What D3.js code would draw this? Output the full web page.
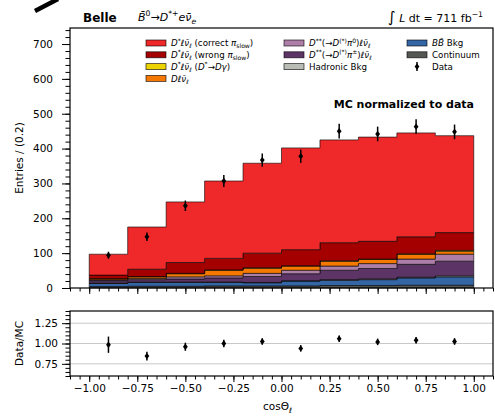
<!DOCTYPE html>
<html>
<head>
<meta charset="utf-8">
<script src="https://cdn.jsdelivr.net/npm/d3@7"></script>
<style>
body { margin: 0; background: #fff; }
svg { font-family: "DejaVu Sans", sans-serif; }
</style>
</head>
<body>
<svg width="495" height="419"></svg>
<script>
// bins of cos(theta_l), width 0.2
var binEdges = [-1, -0.8, -0.6, -0.4, -0.2, 0, 0.2, 0.4, 0.6, 0.8, 1];
var binCenters = [-0.9, -0.7, -0.5, -0.3, -0.1, 0.1, 0.3, 0.5, 0.7, 0.9];

// MC components, bottom of the stack first
var continuum    = [4, 5, 5, 6, 6, 6, 7, 7, 8, 8];
var bbBkg        = [9, 11, 11, 10, 9, 14, 15, 17, 21, 24];
var hadronicBkg  = [1, 1, 1, 1, 1, 1, 2, 2, 2, 3];
var dssCharged   = [7, 7, 9, 12, 17, 20, 27, 30, 37, 42];
var dssNeutral   = [2, 3, 6, 6, 9, 10, 12, 14, 15, 20];
var dlnu         = [3, 5, 9, 16, 15, 12, 14, 12, 14, 8];
var dstarGamma   = [1, 1, 1, 1, 1, 1, 1, 1, 1, 3];
var dstarWrong   = [10, 21, 31, 33, 42, 46, 52, 51, 49, 51];
var dstarCorrect = [60, 121, 174, 222, 258, 292, 295, 299, 298, 278];

var dataCounts = [94, 147, 236, 307, 367, 378, 450, 442, 463, 448];
var dataErrors = [10, 12, 15, 17, 19, 19, 21, 21, 21, 21];
var ratioValues = [0.985, 0.845, 0.96, 1.0, 1.025, 0.94, 1.06, 1.02, 1.04, 1.025];
var ratioErrors = [0.1, 0.055, 0.05, 0.045, 0.04, 0.04, 0.04, 0.04, 0.04, 0.04];

var mainYTicks = [0, 100, 200, 300, 400, 500, 600, 700];
var ratioYTicks = [0.75, 1.0, 1.25];
var xTicks = [-1, -0.75, -0.5, -0.25, 0, 0.25, 0.5, 0.75, 1];

var keys = ["cont", "bb", "had", "dssc", "dssn", "dlnu", "dgam", "wrong", "correct"];
var colors = {
    cont: "#555753", bb: "#3465a4", had: "#babdb6", dssc: "#5c3566", dssn: "#ad7fa8",
    dlnu: "#f57900", dgam: "#edd400", wrong: "#a40000", correct: "#ef2929"
};

var svg = d3.select("svg");

var left = 70, right = 493,
    mainTop = 28, mainBottom = 288,
    ratioTop = 311, ratioBottom = 376;

var x = d3.scaleLinear().domain([-1.1, 1.1]).range([left, right]);
var y = d3.scaleLinear().domain([0, 746]).range([mainBottom, mainTop]);
var yr = d3.scaleLinear().domain([0.6, 1.4]).range([ratioBottom, ratioTop]);

// stacked table, last row repeated so the step ends at cos = 1
var table = binEdges.map(function(e, i) {
    var j = Math.min(i, 9);
    return {
        edge: e, cont: continuum[j], bb: bbBkg[j], had: hadronicBkg[j], dssc: dssCharged[j],
        dssn: dssNeutral[j], dlnu: dlnu[j], dgam: dstarGamma[j], wrong: dstarWrong[j], correct: dstarCorrect[j]
    };
});
var series = d3.stack().keys(keys)(table);

var area = d3.area()
    .x(function(d) { return x(d.data.edge); })
    .y0(function(d) { return y(d[0]); })
    .y1(function(d) { return y(d[1]); })
    .curve(d3.curveStepAfter);

svg.append("g").selectAll("path")
    .data(series)
    .join("path")
    .attr("d", area)
    .attr("fill", function(d) { return colors[d.key]; })
    .attr("stroke", "#000")
    .attr("stroke-opacity", 0.75)
    .attr("stroke-width", 0.8);

// outline of the total
var topLine = d3.line()
    .x(function(d) { return x(d.data.edge); })
    .y(function(d) { return y(d[1]); })
    .curve(d3.curveStepAfter);
svg.append("path")
    .attr("d", "M" + x(-1) + "," + y(0) + topLine(series[series.length - 1]).slice(1) + "L" + x(1) + "," + y(0))
    .attr("fill", "none")
    .attr("stroke", "#000")
    .attr("stroke-opacity", 0.75)
    .attr("stroke-width", 1);

// data points
function drawPoints(g, xs, vals, errs, sy) {
    var pts = g.append("g");
    xs.forEach(function(c, i) {
        pts.append("line")
            .attr("x1", x(c)).attr("x2", x(c))
            .attr("y1", sy(vals[i] - errs[i])).attr("y2", sy(vals[i] + errs[i]))
            .attr("stroke", "#000").attr("stroke-width", 1.5);
        pts.append("path")
            .attr("d", "M" + x(c) + "," + (sy(vals[i]) - 3.2) + "l2.4,3.2l-2.4,3.2l-2.4,-3.2z")
            .attr("fill", "#000");
    });
}
drawPoints(svg, binCenters, dataCounts, dataErrors, y);

// ratio grid
svg.append("g").selectAll("line")
    .data(ratioYTicks)
    .join("line")
    .attr("x1", left).attr("x2", right)
    .attr("y1", function(d) { return yr(d); })
    .attr("y2", function(d) { return yr(d); })
    .attr("stroke", "#c8c8c8")
    .attr("stroke-width", 1);

drawPoints(svg, binCenters, ratioValues, ratioErrors, yr);

// axes
var xMinor = d3.range(-110, 111, 5).map(function(v) { return v / 100; });
var yMinor = d3.range(0, 741, 20);
var yrMinor = d3.range(60, 141, 5).map(function(v) { return v / 100; });

function styleAxis(g) {
    g.select(".domain").remove();
    g.selectAll("line").attr("stroke", "#000").attr("stroke-width", 1);
    g.selectAll("text").attr("fill", "#000").attr("font-size", 10.5).attr("font-family", "DejaVu Sans");
}

[[mainBottom, false], [ratioBottom, true]].forEach(function(p) {
    svg.append("g").attr("transform", "translate(0," + p[0] + ")")
        .call(d3.axisBottom(x).tickValues(xMinor).tickSize(3.5).tickFormat(""))
        .call(styleAxis);
    svg.append("g").attr("transform", "translate(0," + p[0] + ")")
        .call(d3.axisBottom(x).tickValues(xTicks).tickSize(6).tickPadding(3)
            .tickFormat(p[1] ? d3.format(".2f") : function() { return ""; }))
        .call(styleAxis);
});

svg.append("g").attr("transform", "translate(" + left + ",0)")
    .call(d3.axisLeft(y).tickValues(yMinor).tickSize(4.5).tickFormat(""))
    .call(styleAxis);
svg.append("g").attr("transform", "translate(" + left + ",0)")
    .call(d3.axisLeft(y).tickValues(mainYTicks).tickSize(8).tickPadding(9).tickFormat(d3.format("d")))
    .call(styleAxis);
svg.append("g").attr("transform", "translate(" + left + ",0)")
    .call(d3.axisLeft(yr).tickValues(yrMinor).tickSize(4.5).tickFormat(""))
    .call(styleAxis);
svg.append("g").attr("transform", "translate(" + left + ",0)")
    .call(d3.axisLeft(yr).tickValues(ratioYTicks).tickSize(8).tickPadding(4).tickFormat(d3.format(".2f")))
    .call(styleAxis);

// frames
[[mainTop, mainBottom], [ratioTop, ratioBottom]].forEach(function(p) {
    svg.append("rect")
        .attr("x", left).attr("y", p[0])
        .attr("width", right - left).attr("height", p[1] - p[0])
        .attr("fill", "none").attr("stroke", "#000").attr("stroke-width", 1.2);
});

// text with sub/superscripts
function mathText(g, px, py, size, parts) {
    var t = g.append("text").attr("x", px).attr("y", py).attr("font-size", size).attr("fill", "#000");
    var cur = 0;
    parts.forEach(function(p) {
        var s = p[1] || "";
        var off = s.indexOf("^") >= 0 ? -size * 0.42 : s.indexOf("_") >= 0 ? size * 0.25 : 0;
        var ts = t.append("tspan").attr("dy", off - cur).text(p[0]);
        cur = off;
        if (off) ts.attr("font-size", size * 0.7);
        if (s.indexOf("i") >= 0) ts.attr("font-style", "italic");
        if (s.indexOf("L") >= 0) ts.attr("font-size", size * 1.35);
    });
    return t;
}

var lnu = [["ℓ", "i"], ["ν̄", "i"], ["ℓ", "_i"]];

// header
svg.append("text").attr("x", 83).attr("y", 22).attr("font-size", 12).attr("font-weight", "bold").text("Belle");
mathText(svg, 138, 21, 11, [["B̄", "i"], ["0", "^"], ["→", ""], ["D", "i"], ["*+", "^"], ["eν̄", "i"], ["e", "_i"]]);
mathText(svg, 483, 22, 11, [["∫", "L"], [" ", ""], ["L", "i"], [" dt = 711 fb", ""], ["−1", "^"]])
    .attr("text-anchor", "end");

// stray pen mark at top left
svg.append("line").attr("x1", 35).attr("y1", 11).attr("x2", 58).attr("y2", -1)
    .attr("stroke", "#000").attr("stroke-width", 4.5);

// legend
var legendItems = [
    { key: "correct", col: 0, row: 0, parts: [["D", "i"], ["*", "^"]].concat(lnu, [[" (correct ", ""], ["π", "i"], ["slow", "_"], [")", ""]]) },
    { key: "wrong", col: 0, row: 1, parts: [["D", "i"], ["*", "^"]].concat(lnu, [[" (wrong ", ""], ["π", "i"], ["slow", "_"], [")", ""]]) },
    { key: "dgam", col: 0, row: 2, parts: [["D", "i"], ["*", "^"]].concat(lnu, [[" (", ""], ["D", "i"], ["*", "^"], ["→", ""], ["Dγ", "i"], [")", ""]]) },
    { key: "dlnu", col: 0, row: 3, parts: [["D", "i"]].concat(lnu) },
    { key: "dssn", col: 1, row: 0, parts: [["D", "i"], ["**", "^"], ["(→", ""], ["D", "i"], ["(*)", "^"], ["π", "i"], ["0", "^"], [")", ""]].concat(lnu) },
    { key: "dssc", col: 1, row: 1, parts: [["D", "i"], ["**", "^"], ["(→", ""], ["D", "i"], ["(*)", "^"], ["π", "i"], ["±", "^"], [")", ""]].concat(lnu) },
    { key: "had", col: 1, row: 2, parts: [["Hadronic Bkg", ""]] },
    { key: "bb", col: 2, row: 0, parts: [["BB̄", "i"], [" Bkg", ""]] },
    { key: "cont", col: 2, row: 1, parts: [["Continuum", ""]] },
    { key: "data", col: 2, row: 2, parts: [["Data", ""]] }
];
var colX = [146, 284, 407];
var legend = svg.append("g");
legendItems.forEach(function(it) {
    var lx = colX[it.col], ly = 43 + it.row * 11.8;
    if (it.key === "data") {
        legend.append("line").attr("x1", lx + 10).attr("x2", lx + 10).attr("y1", ly - 4.5).attr("y2", ly + 4.5)
            .attr("stroke", "#000").attr("stroke-width", 1.5);
        legend.append("path").attr("d", "M" + (lx + 10) + "," + (ly - 3.2) + "l2.4,3.2l-2.4,3.2l-2.4,-3.2z").attr("fill", "#000");
    } else {
        legend.append("rect").attr("x", lx).attr("y", ly - 3).attr("width", 20).attr("height", 6)
            .attr("fill", colors[it.key]).attr("stroke", "#000").attr("stroke-opacity", 0.75).attr("stroke-width", 0.8);
    }
    mathText(legend, lx + 25, ly + 3.2, 8.7, it.parts);
});

svg.append("text").attr("x", 474).attr("y", 108).attr("text-anchor", "end")
    .attr("font-size", 11).attr("font-weight", "bold").text("MC normalized to data");

// axis titles
svg.append("text").attr("transform", "translate(23," + ((mainTop + mainBottom) / 2) + ") rotate(-90)")
    .attr("text-anchor", "middle").attr("font-size", 10.5).text("Entries / (0.2)");
svg.append("text").attr("transform", "translate(23," + ((ratioTop + ratioBottom) / 2) + ") rotate(-90)")
    .attr("text-anchor", "middle").attr("font-size", 10.5).text("Data/MC");
mathText(svg, 263, 410, 10.5, [["cosΘ", ""], ["ℓ", "_i"]]);
</script>
</body>
</html>
